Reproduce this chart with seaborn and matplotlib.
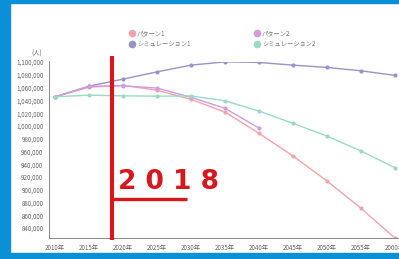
import matplotlib
matplotlib.use("Agg")
import matplotlib.pyplot as plt
import seaborn as sns
import pandas as pd
import numpy as np
from matplotlib.patches import Rectangle
from matplotlib.lines import Line2D
from matplotlib.ticker import FuncFormatter

years = [2010, 2015, 2020, 2025, 2030, 2035, 2040, 2045, 2050, 2055, 2060]
pattern1 = [1045700, 1060800, 1063500, 1056000, 1041600, 1021700, 988300, 952800, 913600, 870900, 824000]
pattern2 = [1045700, 1062000, 1063000, 1059300, 1045000, 1027500, 996600]
sim1 = [1045700, 1062400, 1073400, 1084800, 1095300, 1100500, 1099500, 1095300, 1091700, 1086400, 1079200]
sim2 = [1045700, 1048300, 1047200, 1046700, 1047000, 1039400, 1023300, 1004000, 984100, 960600, 934500]
series_names = ["パターン1", "シミュレーション1", "パターン2", "シミュレーション2"]
x_labels = [f"{y}年" for y in years]
y_ticks = list(range(840000, 1100001, 20000))
colors = {"パターン1": "#f4a3ab", "シミュレーション1": "#9893c9",
          "パターン2": "#d09be0", "シミュレーション2": "#9bdac6"}

rows = []
for name, vals in zip(series_names, [pattern1, sim1, pattern2, sim2]):
    for yr, v in zip(years, vals):
        rows.append({"year": yr, "value": v, "series": name})
df = pd.DataFrame(rows)

sns.set_theme(style="white")
plt.rcParams['font.family'] = ['Noto Sans CJK JP', 'DejaVu Sans']

W, H = 399, 259
fig = plt.figure(figsize=(W / 100, H / 100), dpi=100)
fig.patch.set_facecolor("white")

# axes placement in pixels
x0 = 49
xmin, xmax = 2009.1, 2061.5
px_per_year = 34.0 / 5
x1 = x0 + (xmax - xmin) * px_per_year
ytop, ybot = 61.5, 238.3
ax = fig.add_axes([x0 / W, 1 - ybot / H, (x1 - x0) / W, (ybot - ytop) / H])

sns.lineplot(data=df, x="year", y="value", hue="series", hue_order=series_names,
             palette=colors, marker="o", markersize=3, markeredgewidth=0,
             linewidth=1.0, ax=ax, legend=False)

ax.set_xlim(xmin, xmax)
ax.set_ylim(824000, 1101000)
ax.set_xticks(years)
ax.set_xticklabels(x_labels)
ax.set_yticks(y_ticks)
ax.yaxis.set_major_formatter(FuncFormatter(lambda v, p: f"{int(v):,}"))
ax.tick_params(axis="both", labelsize=4.5, colors="#888888", length=2, width=0.6, pad=2)
for lab in ax.get_xticklabels() + ax.get_yticklabels():
    lab.set_color("#666666")
ax.set_xlabel("")
ax.set_ylabel("")
for s in ["top", "right"]:
    ax.spines[s].set_visible(False)
for s in ["left", "bottom"]:
    ax.spines[s].set_color("#888888")
    ax.spines[s].set_linewidth(0.7)
ax.text(-0.02, 1.02, "(人)", transform=ax.transAxes, ha="right", va="bottom",
        fontsize=4.5, color="#666666")

# legends (two columns)
def handle(c):
    return Line2D([], [], marker="o", linestyle="", markersize=5.5,
                  markerfacecolor=c, markeredgewidth=0)

leg1 = fig.legend([handle(colors["パターン1"]), handle(colors["シミュレーション1"])],
                  ["パターン1", "シミュレーション1"], loc="upper left",
                  bbox_to_anchor=(125 / W, 1 - 26 / H), frameon=False,
                  fontsize=4.5, handletextpad=0.2, labelspacing=0.5,
                  borderpad=0, handlelength=1.2, labelcolor="#777777")
leg2 = fig.legend([handle(colors["パターン2"]), handle(colors["シミュレーション2"])],
                  ["パターン2", "シミュレーション2"], loc="upper left",
                  bbox_to_anchor=(250 / W, 1 - 26 / H), frameon=False,
                  fontsize=4.5, handletextpad=0.2, labelspacing=0.5,
                  borderpad=0, handlelength=1.2, labelcolor="#777777")

# red annotation
red = "#d7161e"
fig.add_artist(Line2D([112 / W, 112 / W], [1 - 56 / H, 1 - 240 / H],
                      color=red, linewidth=3.0, solid_capstyle="butt"))
fig.add_artist(Line2D([112 / W, 187 / W], [1 - 199 / H, 1 - 199 / H],
                      color=red, linewidth=2.4, solid_capstyle="butt"))
fig.text(118 / W, 1 - 189 / H, "2 0 1 8", color=red, fontsize=19,
         fontweight="bold", family="DejaVu Sans", ha="left", va="baseline")

# blue frame
blue = "#0b8fd6"
fig.add_artist(Rectangle((0, 0), 10 / W, 1, transform=fig.transFigure, color=blue, zorder=10))
fig.add_artist(Rectangle((0, 1 - 3 / H), 1, 3 / H, transform=fig.transFigure, color=blue, zorder=10))
fig.add_artist(Rectangle((0, 0), 1, 6 / H, transform=fig.transFigure, color=blue, zorder=10))

fig.savefig("out.png", dpi=100)
